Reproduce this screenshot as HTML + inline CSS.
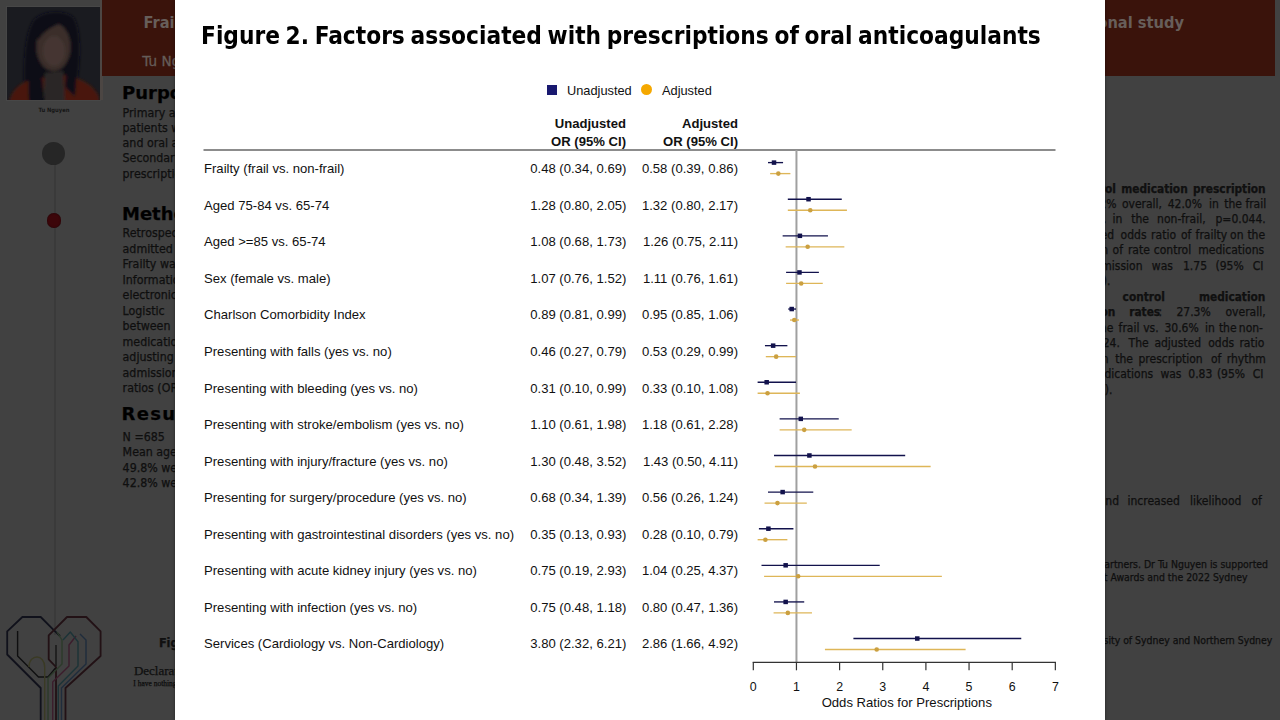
<!DOCTYPE html>
<html><head><meta charset="utf-8">
<style>
*{margin:0;padding:0;box-sizing:border-box}
html,body{width:1280px;height:720px;overflow:hidden}
body{background:#414141;position:relative;font-family:"Liberation Sans",Arial,sans-serif}
.abs{position:absolute;white-space:nowrap}
.pt{-webkit-text-stroke:0.25px #0a0a0a}
#modal{position:absolute;left:175px;top:0;width:930px;height:720px;background:#fff;overflow:hidden;box-shadow:0 0 3px rgba(0,0,0,.45)}
#modal .t{position:absolute;white-space:nowrap;font-size:13.1px;color:#111;line-height:16px}
#modal .b{font-weight:bold}
#modal .plot{position:absolute;left:0;top:0;font-family:"Liberation Sans",Arial,sans-serif}
#title{position:absolute;left:25.8px;top:21.3px;white-space:nowrap;font-family:'DejaVu Sans Condensed','DejaVu Sans',sans-serif;font-weight:bold;font-size:24.8px;line-height:30px;color:#000;transform:scaleX(0.976);transform-origin:0 0;word-spacing:-1.95px}
</style></head><body>
<!-- poster background -->
<div id="bg">
  <!-- sidebar photo -->
  <div class="abs" style="left:6px;top:6px;width:95px;height:95px;background:#474747"></div>
  <div class="abs" style="left:100px;top:0;width:2.5px;height:100px;background:#4c4643"></div>
  <svg class="abs" style="left:7px;top:7px" width="93" height="93" viewBox="0 0 93 93">
    <defs><filter id="bl" x="-10%" y="-10%" width="120%" height="120%"><feGaussianBlur stdDeviation="1.6"/></filter>
    <clipPath id="cp"><rect width="93" height="93"/></clipPath></defs>
    <rect width="93" height="93" fill="#1a1b20"/>
    <g filter="url(#bl)" clip-path="url(#cp)">
      <path d="M18 96 C16 60 17 30 26 14 C34 4 56 2 66 10 C74 20 74 50 70 75 L68 96 Z" fill="#111114"/>
      <path d="M2 96 C4 84 12 76 24 73 L40 70 L56 68 C70 70 86 76 92 90 L92 96 Z" fill="#4a1710"/>
      <path d="M36 96 L38 66 L56 64 L58 96 Z" fill="#2b2827"/>
      <ellipse cx="46.5" cy="40" rx="17" ry="24" fill="#3a2e2a"/>
      <ellipse cx="47" cy="44" rx="11" ry="15" fill="#453630"/>
      <path d="M22 96 C20 75 22 58 28 50 L34 64 L38 96 Z" fill="#111114"/>
      <path d="M68 90 C70 72 70 56 66 48 L60 62 L58 80 Z" fill="#111114"/>
      <path d="M28 30 C30 16 44 10 58 14 C52 18 40 20 32 32 Z" fill="#111114"/>
    </g>
  </svg>
  <div class="abs" style="left:38.5px;top:106.8px;width:30px;text-align:center;font:bold 5.8px 'DejaVu Sans Condensed','DejaVu Sans',sans-serif;color:#151515">Tu Nguyen</div>
  <!-- timeline -->
  <div class="abs" style="left:54px;top:160px;width:1.5px;height:475px;background:#3a3a3a"></div>
  <div class="abs" style="left:42.05px;top:141.6px;width:23.4px;height:23.4px;border-radius:50%;background:#262626"></div>
  <div class="abs" style="left:46.6px;top:213.3px;width:14.3px;height:14.3px;border-radius:50%;background:#3c060a;box-shadow:inset 0 0 1.5px #150204"></div>
  <!-- heart logo -->
  <svg class="abs" style="left:0;top:600px" width="110" height="120" viewBox="0 600 110 120">
    <g fill="none" stroke-width="1.4" stroke-linejoin="round">
      <path d="M40.7 720 L40.7 688 L7.2 654.5 L7.2 631.4 L22.4 617 L40.7 617 L54.3 630.6 L60 636" stroke="#10111b" stroke-width="1.8"/>
      <path d="M65.5 720 L65.5 688 L100.6 656 L100.6 631.4 L86.3 617 L67 617 L48.7 635.4 L48.7 659.3 L56 667 L56 720" stroke="#221115" stroke-width="1.8"/>
      <path d="M17.6 631 L17.6 656 L38.5 677 L48 677 L55.5 668" stroke="#0f0f10"/>
      <path d="M29 667 C29 660 33 657 37 657 C41 657 44.7 661 44.7 667 L44.7 720" stroke="#3a3a24"/>
      <path d="M48 720 L48 678 L62 664 L62 640 L57 632" stroke="#2c3a2a"/>
      <path d="M52.7 720 L52.7 682 L69 666 L69 645 L76 636" stroke="#3b1d2c"/>
      <path d="M58.3 720 L58.3 686 L78 666 L78 641.7 L70.3 632 L63 640" stroke="#1c3337"/>
      <path d="M61.5 720 L61.5 688 L86 664 L86 640 L80 634" stroke="#1f2c3c"/>
      <path d="M56 645 L56 666" stroke="#151515"/>
    </g>
  </svg>
  <div class="abs pt" style="left:122.00px;top:82.52px;font-family:'DejaVu Sans',sans-serif;font-size:18px;font-weight:bold;line-height:20px;color:#000;">Purpose</div>
<div class="abs pt" style="left:122.60px;top:102.54px;font-family:'DejaVu Sans Condensed','DejaVu Sans',sans-serif;font-size:12.3px;font-weight:normal;line-height:20px;color:#111;">Primary aim was to examine the association between frailty in</div>
<div class="abs pt" style="left:122.60px;top:117.64px;font-family:'DejaVu Sans Condensed','DejaVu Sans',sans-serif;font-size:12.3px;font-weight:normal;line-height:20px;color:#111;">patients with atrial fibrillation and the prescription of rate, rhythm</div>
<div class="abs pt" style="left:122.60px;top:133.04px;font-family:'DejaVu Sans Condensed','DejaVu Sans',sans-serif;font-size:12.3px;font-weight:normal;line-height:20px;color:#111;">and oral anticoagulant medications on discharge from hospital.</div>
<div class="abs pt" style="left:122.60px;top:148.44px;font-family:'DejaVu Sans Condensed','DejaVu Sans',sans-serif;font-size:12.3px;font-weight:normal;line-height:20px;color:#111;">Secondary aim was to identify factors associated with the</div>
<div class="abs pt" style="left:122.60px;top:163.94px;font-family:'DejaVu Sans Condensed','DejaVu Sans',sans-serif;font-size:12.3px;font-weight:normal;line-height:20px;color:#111;">prescription of these medications.</div>
<div class="abs pt" style="left:122.00px;top:204.47px;font-family:'DejaVu Sans',sans-serif;font-size:18px;font-weight:bold;line-height:20px;color:#000;">Methods</div>
<div class="abs pt" style="left:122.60px;top:223.14px;font-family:'DejaVu Sans Condensed','DejaVu Sans',sans-serif;font-size:12.3px;font-weight:normal;line-height:20px;color:#111;">Retrospective cohort study of patients aged 65 years and older</div>
<div class="abs pt" style="left:122.60px;top:238.64px;font-family:'DejaVu Sans Condensed','DejaVu Sans',sans-serif;font-size:12.3px;font-weight:normal;line-height:20px;color:#111;">admitted to hospital with atrial fibrillation between 2018 and 2019.</div>
<div class="abs pt" style="left:122.60px;top:254.14px;font-family:'DejaVu Sans Condensed','DejaVu Sans',sans-serif;font-size:12.3px;font-weight:normal;line-height:20px;color:#111;">Frailty was assessed using the Hospital Frailty Risk Score.</div>
<div class="abs pt" style="left:122.60px;top:269.64px;font-family:'DejaVu Sans Condensed','DejaVu Sans',sans-serif;font-size:12.3px;font-weight:normal;line-height:20px;color:#111;">Information on medications was obtained from the hospital</div>
<div class="abs pt" style="left:122.60px;top:285.14px;font-family:'DejaVu Sans Condensed','DejaVu Sans',sans-serif;font-size:12.3px;font-weight:normal;line-height:20px;color:#111;">electronic medical records and discharge summaries.</div>
<div class="abs pt" style="left:122.60px;top:300.64px;font-family:'DejaVu Sans Condensed','DejaVu Sans',sans-serif;font-size:12.3px;font-weight:normal;line-height:20px;color:#111;word-spacing:12px">Logistic regression was used to examine the association</div>
<div class="abs pt" style="left:122.60px;top:316.14px;font-family:'DejaVu Sans Condensed','DejaVu Sans',sans-serif;font-size:12.3px;font-weight:normal;line-height:20px;color:#111;word-spacing:6px">between frailty and the prescription of each class of</div>
<div class="abs pt" style="left:122.60px;top:331.64px;font-family:'DejaVu Sans Condensed','DejaVu Sans',sans-serif;font-size:12.3px;font-weight:normal;line-height:20px;color:#111;">medications on discharge from hospital, with and without</div>
<div class="abs pt" style="left:122.60px;top:347.14px;font-family:'DejaVu Sans Condensed','DejaVu Sans',sans-serif;font-size:12.3px;font-weight:normal;line-height:20px;color:#111;">adjusting for age, sex, comorbidities, reasons for hospital</div>
<div class="abs pt" style="left:122.60px;top:362.64px;font-family:'DejaVu Sans Condensed','DejaVu Sans',sans-serif;font-size:12.3px;font-weight:normal;line-height:20px;color:#111;">admission and treating services. Results presented as odds</div>
<div class="abs pt" style="left:122.60px;top:378.14px;font-family:'DejaVu Sans Condensed','DejaVu Sans',sans-serif;font-size:12.3px;font-weight:normal;line-height:20px;color:#111;">ratios (OR) with 95% confidence intervals (CI).</div>
<div class="abs pt" style="left:121.50px;top:404.47px;font-family:'DejaVu Sans',sans-serif;font-size:18px;font-weight:bold;line-height:20px;color:#000;letter-spacing:1.3px">Results</div>
<div class="abs pt" style="left:122.60px;top:426.54px;font-family:'DejaVu Sans Condensed','DejaVu Sans',sans-serif;font-size:12.3px;font-weight:normal;line-height:20px;color:#111;">N =685</div>
<div class="abs pt" style="left:122.60px;top:442.04px;font-family:'DejaVu Sans Condensed','DejaVu Sans',sans-serif;font-size:12.3px;font-weight:normal;line-height:20px;color:#111;">Mean age 85.0 years, 52.1% female</div>
<div class="abs pt" style="left:122.60px;top:457.54px;font-family:'DejaVu Sans Condensed','DejaVu Sans',sans-serif;font-size:12.3px;font-weight:normal;line-height:20px;color:#111;">49.8% were frail and 50.2% were non-frail</div>
<div class="abs pt" style="left:122.60px;top:473.04px;font-family:'DejaVu Sans Condensed','DejaVu Sans',sans-serif;font-size:12.3px;font-weight:normal;line-height:20px;color:#111;">42.8% were prescribed oral anticoagulants</div>
<div class="abs pt" style="left:158.90px;top:632.88px;font-family:'DejaVu Sans Condensed','DejaVu Sans',sans-serif;font-size:12.5px;font-weight:bold;line-height:20px;color:#111;">Figure 1. Prescription rates</div>
<div class="abs pt" style="left:133.90px;top:661.21px;font-family:'Liberation Serif',serif;font-size:13px;font-weight:normal;line-height:20px;color:#111;">Declarations</div>
<div class="abs pt" style="left:133.30px;top:674.17px;font-family:'Liberation Serif',serif;font-size:7.5px;font-weight:normal;line-height:20px;color:#111;">I have nothing to declare.</div>
<div class="abs pt" style="right:164.00px;top:178.52px;font-family:'DejaVu Sans Condensed','DejaVu Sans',sans-serif;font-size:11.8px;font-weight:bold;line-height:20px;color:#111;">control</div>
<div class="abs pt" style="left:1121.20px;top:178.52px;font-family:'DejaVu Sans Condensed','DejaVu Sans',sans-serif;font-size:11.8px;font-weight:bold;line-height:20px;color:#111;">medication</div>
<div class="abs pt" style="left:1193.00px;top:178.52px;font-family:'DejaVu Sans Condensed','DejaVu Sans',sans-serif;font-size:11.8px;font-weight:bold;line-height:20px;color:#111;">prescription</div>
<div class="abs pt" style="right:163.40px;top:193.95px;font-family:'DejaVu Sans Condensed','DejaVu Sans',sans-serif;font-size:12px;font-weight:normal;line-height:20px;color:#111;">44.2%</div>
<div class="abs pt" style="left:1121.90px;top:193.95px;font-family:'DejaVu Sans Condensed','DejaVu Sans',sans-serif;font-size:12px;font-weight:normal;line-height:20px;color:#111;">overall,</div>
<div class="abs pt" style="left:1167.70px;top:193.95px;font-family:'DejaVu Sans Condensed','DejaVu Sans',sans-serif;font-size:12px;font-weight:normal;line-height:20px;color:#111;">42.0%</div>
<div class="abs pt" style="left:1208.90px;top:193.95px;font-family:'DejaVu Sans Condensed','DejaVu Sans',sans-serif;font-size:12px;font-weight:normal;line-height:20px;color:#111;">in</div>
<div class="abs pt" style="left:1224.20px;top:193.95px;font-family:'DejaVu Sans Condensed','DejaVu Sans',sans-serif;font-size:12px;font-weight:normal;line-height:20px;color:#111;">the</div>
<div class="abs pt" style="left:1245.40px;top:193.95px;font-family:'DejaVu Sans Condensed','DejaVu Sans',sans-serif;font-size:12px;font-weight:normal;line-height:20px;color:#111;">frail</div>
<div class="abs pt" style="right:173.50px;top:209.45px;font-family:'DejaVu Sans Condensed','DejaVu Sans',sans-serif;font-size:12px;font-weight:normal;line-height:20px;color:#111;">vs.</div>
<div class="abs pt" style="left:1112.60px;top:209.45px;font-family:'DejaVu Sans Condensed','DejaVu Sans',sans-serif;font-size:12px;font-weight:normal;line-height:20px;color:#111;">in</div>
<div class="abs pt" style="left:1131.20px;top:209.45px;font-family:'DejaVu Sans Condensed','DejaVu Sans',sans-serif;font-size:12px;font-weight:normal;line-height:20px;color:#111;">the</div>
<div class="abs pt" style="left:1157.10px;top:209.45px;font-family:'DejaVu Sans Condensed','DejaVu Sans',sans-serif;font-size:12px;font-weight:normal;line-height:20px;color:#111;">non-frail,</div>
<div class="abs pt" style="left:1215.50px;top:209.45px;font-family:'DejaVu Sans Condensed','DejaVu Sans',sans-serif;font-size:12px;font-weight:normal;line-height:20px;color:#111;">p=0.044.</div>
<div class="abs pt" style="right:166.00px;top:224.85px;font-family:'DejaVu Sans Condensed','DejaVu Sans',sans-serif;font-size:12px;font-weight:normal;line-height:20px;color:#111;">adjusted</div>
<div class="abs pt" style="left:1120.60px;top:224.85px;font-family:'DejaVu Sans Condensed','DejaVu Sans',sans-serif;font-size:12px;font-weight:normal;line-height:20px;color:#111;">odds</div>
<div class="abs pt" style="left:1151.10px;top:224.85px;font-family:'DejaVu Sans Condensed','DejaVu Sans',sans-serif;font-size:12px;font-weight:normal;line-height:20px;color:#111;">ratio</div>
<div class="abs pt" style="left:1181.00px;top:224.85px;font-family:'DejaVu Sans Condensed','DejaVu Sans',sans-serif;font-size:12px;font-weight:normal;line-height:20px;color:#111;">of</div>
<div class="abs pt" style="left:1195.60px;top:224.85px;font-family:'DejaVu Sans Condensed','DejaVu Sans',sans-serif;font-size:12px;font-weight:normal;line-height:20px;color:#111;">frailty</div>
<div class="abs pt" style="left:1230.10px;top:224.85px;font-family:'DejaVu Sans Condensed','DejaVu Sans',sans-serif;font-size:12px;font-weight:normal;line-height:20px;color:#111;">on</div>
<div class="abs pt" style="left:1247.40px;top:224.85px;font-family:'DejaVu Sans Condensed','DejaVu Sans',sans-serif;font-size:12px;font-weight:normal;line-height:20px;color:#111;">the</div>
<div class="abs pt" style="right:172.00px;top:240.35px;font-family:'DejaVu Sans Condensed','DejaVu Sans',sans-serif;font-size:12px;font-weight:normal;line-height:20px;color:#111;">prescription</div>
<div class="abs pt" style="left:1112.60px;top:240.35px;font-family:'DejaVu Sans Condensed','DejaVu Sans',sans-serif;font-size:12px;font-weight:normal;line-height:20px;color:#111;">of</div>
<div class="abs pt" style="left:1127.90px;top:240.35px;font-family:'DejaVu Sans Condensed','DejaVu Sans',sans-serif;font-size:12px;font-weight:normal;line-height:20px;color:#111;">rate</div>
<div class="abs pt" style="left:1153.80px;top:240.35px;font-family:'DejaVu Sans Condensed','DejaVu Sans',sans-serif;font-size:12px;font-weight:normal;line-height:20px;color:#111;">control</div>
<div class="abs pt" style="left:1198.30px;top:240.35px;font-family:'DejaVu Sans Condensed','DejaVu Sans',sans-serif;font-size:12px;font-weight:normal;line-height:20px;color:#111;">medications</div>
<div class="abs pt" style="right:137.50px;top:255.85px;font-family:'DejaVu Sans Condensed','DejaVu Sans',sans-serif;font-size:12px;font-weight:normal;line-height:20px;color:#111;">admission</div>
<div class="abs pt" style="left:1151.80px;top:255.85px;font-family:'DejaVu Sans Condensed','DejaVu Sans',sans-serif;font-size:12px;font-weight:normal;line-height:20px;color:#111;">was</div>
<div class="abs pt" style="left:1183.00px;top:255.85px;font-family:'DejaVu Sans Condensed','DejaVu Sans',sans-serif;font-size:12px;font-weight:normal;line-height:20px;color:#111;">1.75</div>
<div class="abs pt" style="left:1215.50px;top:255.85px;font-family:'DejaVu Sans Condensed','DejaVu Sans',sans-serif;font-size:12px;font-weight:normal;line-height:20px;color:#111;">(95%</div>
<div class="abs pt" style="left:1252.70px;top:255.85px;font-family:'DejaVu Sans Condensed','DejaVu Sans',sans-serif;font-size:12px;font-weight:normal;line-height:20px;color:#111;">CI</div>
<div class="abs pt" style="right:169.50px;top:271.35px;font-family:'DejaVu Sans Condensed','DejaVu Sans',sans-serif;font-size:12px;font-weight:normal;line-height:20px;color:#111;">2.79).</div>
<div class="abs pt" style="right:180.00px;top:286.92px;font-family:'DejaVu Sans Condensed','DejaVu Sans',sans-serif;font-size:11.8px;font-weight:bold;line-height:20px;color:#111;">Rhythm</div>
<div class="abs pt" style="left:1122.60px;top:286.92px;font-family:'DejaVu Sans Condensed','DejaVu Sans',sans-serif;font-size:11.8px;font-weight:bold;line-height:20px;color:#111;">control</div>
<div class="abs pt" style="left:1198.90px;top:286.92px;font-family:'DejaVu Sans Condensed','DejaVu Sans',sans-serif;font-size:11.8px;font-weight:bold;line-height:20px;color:#111;">medication</div>
<div class="abs pt" style="right:164.70px;top:302.32px;font-family:'DejaVu Sans Condensed','DejaVu Sans',sans-serif;font-size:11.8px;font-weight:bold;line-height:20px;color:#111;">prescription</div>
<div class="abs pt" style="left:1129.20px;top:302.32px;font-family:'DejaVu Sans Condensed','DejaVu Sans',sans-serif;font-size:11.8px;font-weight:bold;line-height:20px;color:#111;">rates</div>
<div class="abs pt" style="left:1158.60px;top:302.25px;font-family:'DejaVu Sans Condensed','DejaVu Sans',sans-serif;font-size:12px;font-weight:normal;line-height:20px;color:#111;">:</div>
<div class="abs pt" style="left:1176.40px;top:302.25px;font-family:'DejaVu Sans Condensed','DejaVu Sans',sans-serif;font-size:12px;font-weight:normal;line-height:20px;color:#111;">27.3%</div>
<div class="abs pt" style="left:1225.50px;top:302.25px;font-family:'DejaVu Sans Condensed','DejaVu Sans',sans-serif;font-size:12px;font-weight:normal;line-height:20px;color:#111;">overall,</div>
<div class="abs pt" style="right:166.70px;top:317.75px;font-family:'DejaVu Sans Condensed','DejaVu Sans',sans-serif;font-size:12px;font-weight:normal;line-height:20px;color:#111;">the</div>
<div class="abs pt" style="left:1118.60px;top:317.75px;font-family:'DejaVu Sans Condensed','DejaVu Sans',sans-serif;font-size:12px;font-weight:normal;line-height:20px;color:#111;">frail</div>
<div class="abs pt" style="left:1143.20px;top:317.75px;font-family:'DejaVu Sans Condensed','DejaVu Sans',sans-serif;font-size:12px;font-weight:normal;line-height:20px;color:#111;">vs.</div>
<div class="abs pt" style="left:1164.40px;top:317.75px;font-family:'DejaVu Sans Condensed','DejaVu Sans',sans-serif;font-size:12px;font-weight:normal;line-height:20px;color:#111;">30.6%</div>
<div class="abs pt" style="left:1204.90px;top:317.75px;font-family:'DejaVu Sans Condensed','DejaVu Sans',sans-serif;font-size:12px;font-weight:normal;line-height:20px;color:#111;">in</div>
<div class="abs pt" style="left:1218.90px;top:317.75px;font-family:'DejaVu Sans Condensed','DejaVu Sans',sans-serif;font-size:12px;font-weight:normal;line-height:20px;color:#111;">the</div>
<div class="abs pt" style="left:1238.80px;top:317.75px;font-family:'DejaVu Sans Condensed','DejaVu Sans',sans-serif;font-size:12px;font-weight:normal;line-height:20px;color:#111;">non-</div>
<div class="abs pt" style="right:160.10px;top:333.25px;font-family:'DejaVu Sans Condensed','DejaVu Sans',sans-serif;font-size:12px;font-weight:normal;line-height:20px;color:#111;">p=0.024.</div>
<div class="abs pt" style="left:1128.60px;top:333.25px;font-family:'DejaVu Sans Condensed','DejaVu Sans',sans-serif;font-size:12px;font-weight:normal;line-height:20px;color:#111;">The</div>
<div class="abs pt" style="left:1154.40px;top:333.25px;font-family:'DejaVu Sans Condensed','DejaVu Sans',sans-serif;font-size:12px;font-weight:normal;line-height:20px;color:#111;">adjusted</div>
<div class="abs pt" style="left:1208.20px;top:333.25px;font-family:'DejaVu Sans Condensed','DejaVu Sans',sans-serif;font-size:12px;font-weight:normal;line-height:20px;color:#111;">odds</div>
<div class="abs pt" style="left:1239.40px;top:333.25px;font-family:'DejaVu Sans Condensed','DejaVu Sans',sans-serif;font-size:12px;font-weight:normal;line-height:20px;color:#111;">ratio</div>
<div class="abs pt" style="right:171.40px;top:348.65px;font-family:'DejaVu Sans Condensed','DejaVu Sans',sans-serif;font-size:12px;font-weight:normal;line-height:20px;color:#111;">on</div>
<div class="abs pt" style="left:1115.30px;top:348.65px;font-family:'DejaVu Sans Condensed','DejaVu Sans',sans-serif;font-size:12px;font-weight:normal;line-height:20px;color:#111;">the</div>
<div class="abs pt" style="left:1138.50px;top:348.65px;font-family:'DejaVu Sans Condensed','DejaVu Sans',sans-serif;font-size:12px;font-weight:normal;line-height:20px;color:#111;">prescription</div>
<div class="abs pt" style="left:1210.90px;top:348.65px;font-family:'DejaVu Sans Condensed','DejaVu Sans',sans-serif;font-size:12px;font-weight:normal;line-height:20px;color:#111;">of</div>
<div class="abs pt" style="left:1226.80px;top:348.65px;font-family:'DejaVu Sans Condensed','DejaVu Sans',sans-serif;font-size:12px;font-weight:normal;line-height:20px;color:#111;">rhythm</div>
<div class="abs pt" style="right:126.90px;top:364.15px;font-family:'DejaVu Sans Condensed','DejaVu Sans',sans-serif;font-size:12px;font-weight:normal;line-height:20px;color:#111;">medications</div>
<div class="abs pt" style="left:1160.40px;top:364.15px;font-family:'DejaVu Sans Condensed','DejaVu Sans',sans-serif;font-size:12px;font-weight:normal;line-height:20px;color:#111;">was</div>
<div class="abs pt" style="left:1188.30px;top:364.15px;font-family:'DejaVu Sans Condensed','DejaVu Sans',sans-serif;font-size:12px;font-weight:normal;line-height:20px;color:#111;">0.83</div>
<div class="abs pt" style="left:1216.90px;top:364.15px;font-family:'DejaVu Sans Condensed','DejaVu Sans',sans-serif;font-size:12px;font-weight:normal;line-height:20px;color:#111;">(95%</div>
<div class="abs pt" style="left:1252.70px;top:364.15px;font-family:'DejaVu Sans Condensed','DejaVu Sans',sans-serif;font-size:12px;font-weight:normal;line-height:20px;color:#111;">CI</div>
<div class="abs pt" style="right:167.50px;top:379.65px;font-family:'DejaVu Sans Condensed','DejaVu Sans',sans-serif;font-size:12px;font-weight:normal;line-height:20px;color:#111;">1.35).</div>
<div class="abs pt" style="right:161.00px;top:491.45px;font-family:'DejaVu Sans Condensed','DejaVu Sans',sans-serif;font-size:12px;font-weight:normal;line-height:20px;color:#111;">and</div>
<div class="abs pt" style="left:1127.50px;top:491.45px;font-family:'DejaVu Sans Condensed','DejaVu Sans',sans-serif;font-size:12px;font-weight:normal;line-height:20px;color:#111;">increased</div>
<div class="abs pt" style="left:1190.00px;top:491.45px;font-family:'DejaVu Sans Condensed','DejaVu Sans',sans-serif;font-size:12px;font-weight:normal;line-height:20px;color:#111;">likelihood</div>
<div class="abs pt" style="left:1251.40px;top:491.45px;font-family:'DejaVu Sans Condensed','DejaVu Sans',sans-serif;font-size:12px;font-weight:normal;line-height:20px;color:#111;">of</div>
<div class="abs pt" style="right:12.00px;top:554.00px;font-family:'DejaVu Sans Condensed','DejaVu Sans',sans-serif;font-size:10.4px;font-weight:normal;line-height:20px;color:#111;">We thank our clinical partners. Dr Tu Nguyen is supported</div>
<div class="abs pt" style="right:32.50px;top:567.00px;font-family:'DejaVu Sans Condensed','DejaVu Sans',sans-serif;font-size:10.4px;font-weight:normal;line-height:20px;color:#111;">by the NHMRC Investigator Grant Awards and the 2022 Sydney</div>
<div class="abs pt" style="right:7.70px;top:630.30px;font-family:'DejaVu Sans Condensed','DejaVu Sans',sans-serif;font-size:10.4px;font-weight:normal;line-height:20px;color:#111;">1. University of Sydney and Northern Sydney</div>
  <!-- banner -->
  <div class="abs" style="left:102px;top:0;width:1173px;height:76px;background:#3a130b"></div>
  <div class="abs" style="left:143.5px;top:13px;font:bold 16.3px 'DejaVu Sans Condensed','DejaVu Sans',sans-serif;color:#675e5a">Frailty and the prescription of oral anticoagulants</div>
  <div class="abs" style="right:96px;top:12.7px;font:bold 16.3px 'DejaVu Sans Condensed','DejaVu Sans',sans-serif;color:#675e5a">fibrillation: a retrospective observational study</div>
  <div class="abs" style="left:142.3px;top:52.6px;font:13.6px 'DejaVu Sans',sans-serif;color:#655c58;-webkit-text-stroke:0.3px #655c58">Tu Nguyen</div>
</div>
<div id="modal">
  <div id="title">Figure 2. Factors associated with prescriptions of oral anticoagulants</div>
  <div class="abs" style="left:372px;top:85px;width:10px;height:10px;background:#191970"></div>
  <div class="t" style="left:392px;top:82.5px;font-size:12.8px">Unadjusted</div>
  <div class="abs" style="left:466px;top:83.5px;width:11px;height:11px;border-radius:50%;background:#f5a800"></div>
  <div class="t" style="left:487px;top:82.5px;font-size:12.8px">Adjusted</div>
  <div class="t b r" style="right:479px;top:115.5px">Unadjusted</div>
  <div class="t b r" style="right:479px;top:133.8px">OR (95% CI)</div>
  <div class="t b r" style="right:367px;top:115.5px">Adjusted</div>
  <div class="t b r" style="right:367px;top:133.8px">OR (95% CI)</div>
<div class="t" style="left:29px;top:161.25px">Frailty (frail vs. non-frail)</div>
<div class="t r" style="right:478.70000000000005px;top:161.25px">0.48 (0.34, 0.69)</div>
<div class="t r" style="right:367px;top:161.25px">0.58 (0.39, 0.86)</div>
<div class="t" style="left:29px;top:197.80px">Aged 75-84 vs. 65-74</div>
<div class="t r" style="right:478.70000000000005px;top:197.80px">1.28 (0.80, 2.05)</div>
<div class="t r" style="right:367px;top:197.80px">1.32 (0.80, 2.17)</div>
<div class="t" style="left:29px;top:234.35px">Aged &gt;=85 vs. 65-74</div>
<div class="t r" style="right:478.70000000000005px;top:234.35px">1.08 (0.68, 1.73)</div>
<div class="t r" style="right:367px;top:234.35px">1.26 (0.75, 2.11)</div>
<div class="t" style="left:29px;top:270.90px">Sex (female vs. male)</div>
<div class="t r" style="right:478.70000000000005px;top:270.90px">1.07 (0.76, 1.52)</div>
<div class="t r" style="right:367px;top:270.90px">1.11 (0.76, 1.61)</div>
<div class="t" style="left:29px;top:307.45px">Charlson Comorbidity Index</div>
<div class="t r" style="right:478.70000000000005px;top:307.45px">0.89 (0.81, 0.99)</div>
<div class="t r" style="right:367px;top:307.45px">0.95 (0.85, 1.06)</div>
<div class="t" style="left:29px;top:344.00px">Presenting with falls (yes vs. no)</div>
<div class="t r" style="right:478.70000000000005px;top:344.00px">0.46 (0.27, 0.79)</div>
<div class="t r" style="right:367px;top:344.00px">0.53 (0.29, 0.99)</div>
<div class="t" style="left:29px;top:380.55px">Presenting with bleeding (yes vs. no)</div>
<div class="t r" style="right:478.70000000000005px;top:380.55px">0.31 (0.10, 0.99)</div>
<div class="t r" style="right:367px;top:380.55px">0.33 (0.10, 1.08)</div>
<div class="t" style="left:29px;top:417.10px">Presenting with stroke/embolism (yes vs. no)</div>
<div class="t r" style="right:478.70000000000005px;top:417.10px">1.10 (0.61, 1.98)</div>
<div class="t r" style="right:367px;top:417.10px">1.18 (0.61, 2.28)</div>
<div class="t" style="left:29px;top:453.65px">Presenting with injury/fracture (yes vs. no)</div>
<div class="t r" style="right:478.70000000000005px;top:453.65px">1.30 (0.48, 3.52)</div>
<div class="t r" style="right:367px;top:453.65px">1.43 (0.50, 4.11)</div>
<div class="t" style="left:29px;top:490.20px">Presenting for surgery/procedure (yes vs. no)</div>
<div class="t r" style="right:478.70000000000005px;top:490.20px">0.68 (0.34, 1.39)</div>
<div class="t r" style="right:367px;top:490.20px">0.56 (0.26, 1.24)</div>
<div class="t" style="left:29px;top:526.75px">Presenting with gastrointestinal disorders (yes vs. no)</div>
<div class="t r" style="right:478.70000000000005px;top:526.75px">0.35 (0.13, 0.93)</div>
<div class="t r" style="right:367px;top:526.75px">0.28 (0.10, 0.79)</div>
<div class="t" style="left:29px;top:563.30px">Presenting with acute kidney injury (yes vs. no)</div>
<div class="t r" style="right:478.70000000000005px;top:563.30px">0.75 (0.19, 2.93)</div>
<div class="t r" style="right:367px;top:563.30px">1.04 (0.25, 4.37)</div>
<div class="t" style="left:29px;top:599.85px">Presenting with infection (yes vs. no)</div>
<div class="t r" style="right:478.70000000000005px;top:599.85px">0.75 (0.48, 1.18)</div>
<div class="t r" style="right:367px;top:599.85px">0.80 (0.47, 1.36)</div>
<div class="t" style="left:29px;top:636.40px">Services (Cardiology vs. Non-Cardiology)</div>
<div class="t r" style="right:478.70000000000005px;top:636.40px">3.80 (2.32, 6.21)</div>
<div class="t r" style="right:367px;top:636.40px">2.86 (1.66, 4.92)</div>
<svg class="plot" width="930" height="720" viewBox="0 0 930 720">
<line x1="28.5" y1="150" x2="880.5" y2="150" stroke="#666" stroke-width="1.5"/>
<line x1="621.45" y1="150" x2="621.45" y2="662.3" stroke="#a0a0a0" stroke-width="2"/>
<line x1="592.97" y1="162.60" x2="608.07" y2="162.60" stroke="#12124c" stroke-width="1.35"/>
<rect x="596.76" y="160.35" width="4.5" height="4.5" fill="#12124c"/>
<line x1="595.13" y1="173.60" x2="615.41" y2="173.60" stroke="#deb658" stroke-width="1.35"/>
<circle cx="603.33" cy="173.60" r="2.3" fill="#cba040"/>
<line x1="612.82" y1="199.21" x2="666.76" y2="199.21" stroke="#12124c" stroke-width="1.35"/>
<rect x="631.28" y="196.96" width="4.5" height="4.5" fill="#12124c"/>
<line x1="612.82" y1="210.21" x2="671.94" y2="210.21" stroke="#deb658" stroke-width="1.35"/>
<circle cx="635.26" cy="210.21" r="2.3" fill="#cba040"/>
<line x1="607.64" y1="235.82" x2="652.95" y2="235.82" stroke="#12124c" stroke-width="1.35"/>
<rect x="622.65" y="233.57" width="4.5" height="4.5" fill="#12124c"/>
<line x1="610.66" y1="246.82" x2="669.35" y2="246.82" stroke="#deb658" stroke-width="1.35"/>
<circle cx="632.67" cy="246.82" r="2.3" fill="#cba040"/>
<line x1="611.09" y1="272.43" x2="643.89" y2="272.43" stroke="#12124c" stroke-width="1.35"/>
<rect x="622.22" y="270.18" width="4.5" height="4.5" fill="#12124c"/>
<line x1="611.09" y1="283.43" x2="647.77" y2="283.43" stroke="#deb658" stroke-width="1.35"/>
<circle cx="626.20" cy="283.43" r="2.3" fill="#cba040"/>
<line x1="613.25" y1="309.04" x2="621.02" y2="309.04" stroke="#12124c" stroke-width="1.35"/>
<rect x="614.45" y="306.79" width="4.5" height="4.5" fill="#12124c"/>
<line x1="614.98" y1="320.04" x2="624.04" y2="320.04" stroke="#deb658" stroke-width="1.35"/>
<circle cx="619.29" cy="320.04" r="2.3" fill="#cba040"/>
<line x1="589.95" y1="345.65" x2="612.39" y2="345.65" stroke="#12124c" stroke-width="1.35"/>
<rect x="595.90" y="343.40" width="4.5" height="4.5" fill="#12124c"/>
<line x1="590.81" y1="356.65" x2="621.02" y2="356.65" stroke="#deb658" stroke-width="1.35"/>
<circle cx="601.17" cy="356.65" r="2.3" fill="#cba040"/>
<line x1="582.62" y1="382.26" x2="621.02" y2="382.26" stroke="#12124c" stroke-width="1.35"/>
<rect x="589.43" y="380.01" width="4.5" height="4.5" fill="#12124c"/>
<line x1="582.62" y1="393.26" x2="624.90" y2="393.26" stroke="#deb658" stroke-width="1.35"/>
<circle cx="592.54" cy="393.26" r="2.3" fill="#cba040"/>
<line x1="604.62" y1="418.87" x2="663.74" y2="418.87" stroke="#12124c" stroke-width="1.35"/>
<rect x="623.51" y="416.62" width="4.5" height="4.5" fill="#12124c"/>
<line x1="604.62" y1="429.87" x2="676.68" y2="429.87" stroke="#deb658" stroke-width="1.35"/>
<circle cx="629.22" cy="429.87" r="2.3" fill="#cba040"/>
<line x1="599.01" y1="455.48" x2="730.19" y2="455.48" stroke="#12124c" stroke-width="1.35"/>
<rect x="632.14" y="453.23" width="4.5" height="4.5" fill="#12124c"/>
<line x1="599.88" y1="466.48" x2="755.65" y2="466.48" stroke="#deb658" stroke-width="1.35"/>
<circle cx="640.00" cy="466.48" r="2.3" fill="#cba040"/>
<line x1="592.97" y1="492.09" x2="638.28" y2="492.09" stroke="#12124c" stroke-width="1.35"/>
<rect x="605.39" y="489.84" width="4.5" height="4.5" fill="#12124c"/>
<line x1="589.52" y1="503.09" x2="631.81" y2="503.09" stroke="#deb658" stroke-width="1.35"/>
<circle cx="602.46" cy="503.09" r="2.3" fill="#cba040"/>
<line x1="583.91" y1="528.70" x2="618.43" y2="528.70" stroke="#12124c" stroke-width="1.35"/>
<rect x="591.15" y="526.45" width="4.5" height="4.5" fill="#12124c"/>
<line x1="582.62" y1="539.70" x2="612.39" y2="539.70" stroke="#deb658" stroke-width="1.35"/>
<circle cx="590.38" cy="539.70" r="2.3" fill="#cba040"/>
<line x1="586.50" y1="565.31" x2="704.73" y2="565.31" stroke="#12124c" stroke-width="1.35"/>
<rect x="608.41" y="563.06" width="4.5" height="4.5" fill="#12124c"/>
<line x1="589.09" y1="576.31" x2="766.87" y2="576.31" stroke="#deb658" stroke-width="1.35"/>
<circle cx="623.18" cy="576.31" r="2.3" fill="#cba040"/>
<line x1="599.01" y1="601.92" x2="629.22" y2="601.92" stroke="#12124c" stroke-width="1.35"/>
<rect x="608.41" y="599.67" width="4.5" height="4.5" fill="#12124c"/>
<line x1="598.58" y1="612.92" x2="636.98" y2="612.92" stroke="#deb658" stroke-width="1.35"/>
<circle cx="612.82" cy="612.92" r="2.3" fill="#cba040"/>
<line x1="678.41" y1="638.53" x2="846.26" y2="638.53" stroke="#12124c" stroke-width="1.35"/>
<rect x="740.02" y="636.28" width="4.5" height="4.5" fill="#12124c"/>
<line x1="649.93" y1="649.53" x2="790.60" y2="649.53" stroke="#deb658" stroke-width="1.35"/>
<circle cx="701.71" cy="649.53" r="2.3" fill="#cba040"/>
<line x1="577.70" y1="662.3" x2="880.95" y2="662.3" stroke="#333" stroke-width="1.2"/>
<line x1="578.30" y1="662.3" x2="578.30" y2="670.3" stroke="#333" stroke-width="1.2"/>
<text x="578.30" y="690.8" text-anchor="middle" font-size="12.4" fill="#111">0</text>
<line x1="621.45" y1="662.3" x2="621.45" y2="670.3" stroke="#333" stroke-width="1.2"/>
<text x="621.45" y="690.8" text-anchor="middle" font-size="12.4" fill="#111">1</text>
<line x1="664.60" y1="662.3" x2="664.60" y2="670.3" stroke="#333" stroke-width="1.2"/>
<text x="664.60" y="690.8" text-anchor="middle" font-size="12.4" fill="#111">2</text>
<line x1="707.75" y1="662.3" x2="707.75" y2="670.3" stroke="#333" stroke-width="1.2"/>
<text x="707.75" y="690.8" text-anchor="middle" font-size="12.4" fill="#111">3</text>
<line x1="750.90" y1="662.3" x2="750.90" y2="670.3" stroke="#333" stroke-width="1.2"/>
<text x="750.90" y="690.8" text-anchor="middle" font-size="12.4" fill="#111">4</text>
<line x1="794.05" y1="662.3" x2="794.05" y2="670.3" stroke="#333" stroke-width="1.2"/>
<text x="794.05" y="690.8" text-anchor="middle" font-size="12.4" fill="#111">5</text>
<line x1="837.20" y1="662.3" x2="837.20" y2="670.3" stroke="#333" stroke-width="1.2"/>
<text x="837.20" y="690.8" text-anchor="middle" font-size="12.4" fill="#111">6</text>
<line x1="880.35" y1="662.3" x2="880.35" y2="670.3" stroke="#333" stroke-width="1.2"/>
<text x="880.35" y="690.8" text-anchor="middle" font-size="12.4" fill="#111">7</text>
<text x="731.82" y="707" text-anchor="middle" font-size="13.1" fill="#111">Odds Ratios for Prescriptions</text>
</svg>
</div>
</body></html>
